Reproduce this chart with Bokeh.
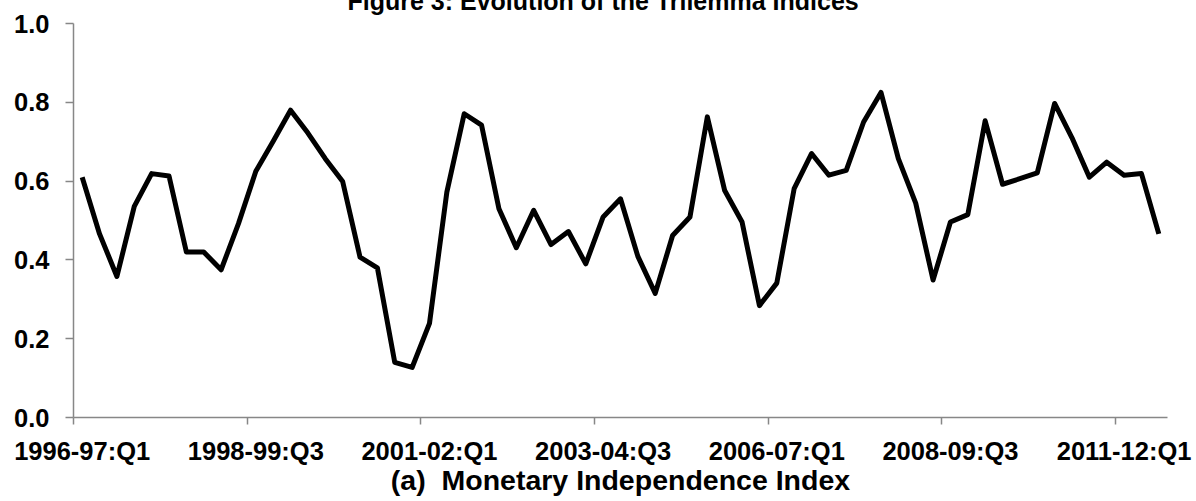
from bokeh.plotting import figure
from bokeh.models import Range1d, FixedTicker, NumeralTickFormatter
from bokeh.embed import file_html
from bokeh.resources import INLINE

# ---- data ----
quarters = [f"{y}-{str(y + 1)[2:]}:Q{q}" for y in range(1996, 2012) for q in (1, 2, 3, 4)][:63]
monetary_independence = [
    0.610, 0.466, 0.358, 0.536, 0.619, 0.613, 0.420, 0.420, 0.375, 0.492,
    0.625, 0.701, 0.780, 0.722, 0.657, 0.599, 0.407, 0.380, 0.140, 0.127,
    0.239, 0.572, 0.771, 0.742, 0.530, 0.431, 0.526, 0.439, 0.472, 0.390,
    0.509, 0.555, 0.409, 0.315, 0.462, 0.509, 0.763, 0.576, 0.496, 0.284,
    0.341, 0.581, 0.670, 0.615, 0.627, 0.750, 0.825, 0.657, 0.544, 0.349,
    0.496, 0.515, 0.753, 0.592, 0.606, 0.621, 0.797, 0.710, 0.610, 0.648,
    0.615, 0.619, 0.466,
]
label_every = 10
y_ticks = [0.0, 0.2, 0.4, 0.6, 0.8, 1.0]
title_text = "Figure 3: Evolution of the Trilemma Indices"
subtitle_text = "(a)\u00a0 Monetary Independence Index"

# ---- figure ----
n = len(monetary_independence)
xs = [i + 0.5 for i in range(n)]
FONT = "Liberation Sans"
GRAY = "#878787"
HIDDEN = 40  # the figure title sits mostly above the visible page, as in the source

p = figure(width=1196, height=501 + HIDDEN, output_backend="svg", toolbar_location=None,
           x_range=Range1d(0, n), y_range=Range1d(0, 1),
           min_border_left=73, min_border_right=29, min_border_top=23 + HIDDEN,
           min_border_bottom=84)
p.styles = {"margin-top": f"-{HIDDEN}px"}
p.outline_line_color = None
p.xgrid.visible = False
p.ygrid.visible = False
p.background_fill_color = "white"
p.border_fill_color = "white"

p.title.text = title_text
p.title.align = "left"
p.title.offset = 274
p.title.text_font = FONT
p.title.text_font_style = "bold"
p.title.text_font_size = "25px"
p.title.text_color = "black"
p.title.standoff = 17

p.line(xs, monetary_independence, line_color="black", line_width=5, line_join="round")

# x axis: labels on category centres, tick marks at category boundaries
major = [i + 0.5 for i in range(0, n, label_every)]
minor = [float(i) for i in range(0, n, label_every)]
p.xaxis.ticker = FixedTicker(ticks=major, minor_ticks=minor)
p.xaxis.major_label_overrides = {t: quarters[int(t)] for t in major}
p.xaxis.major_tick_line_alpha = 0
p.xaxis.major_tick_out = 7
p.xaxis.major_tick_in = 0
p.xaxis.minor_tick_out = 7
p.xaxis.minor_tick_in = 0
p.xaxis.minor_tick_line_color = GRAY
p.xaxis.minor_tick_line_width = 1.5
p.xaxis.axis_line_color = GRAY
p.xaxis.axis_line_width = 1.5
p.xaxis.major_label_text_font = FONT
p.xaxis.major_label_text_font_style = "bold"
p.xaxis.major_label_text_font_size = "25.5px"
p.xaxis.major_label_text_color = "black"
p.xaxis.major_label_standoff = 12
p.xaxis.axis_label = subtitle_text
p.xaxis.axis_label_text_font = FONT
p.xaxis.axis_label_text_font_style = "bold"
p.xaxis.axis_label_text_font_size = "28.5px"
p.xaxis.axis_label_text_color = "black"
p.xaxis.axis_label_standoff = -4

# y axis
p.yaxis.ticker = FixedTicker(ticks=y_ticks, minor_ticks=[])
p.yaxis.formatter = NumeralTickFormatter(format="0.0")
p.yaxis.major_tick_out = 8
p.yaxis.major_tick_in = 0
p.yaxis.major_tick_line_color = GRAY
p.yaxis.major_tick_line_width = 1.5
p.yaxis.axis_line_color = GRAY
p.yaxis.axis_line_width = 1.5
p.yaxis.major_label_text_font = FONT
p.yaxis.major_label_text_font_style = "bold"
p.yaxis.major_label_text_font_size = "25.5px"
p.yaxis.major_label_text_color = "black"
p.yaxis.major_label_standoff = 16

open("out.html", "w").write(file_html(p, INLINE))
